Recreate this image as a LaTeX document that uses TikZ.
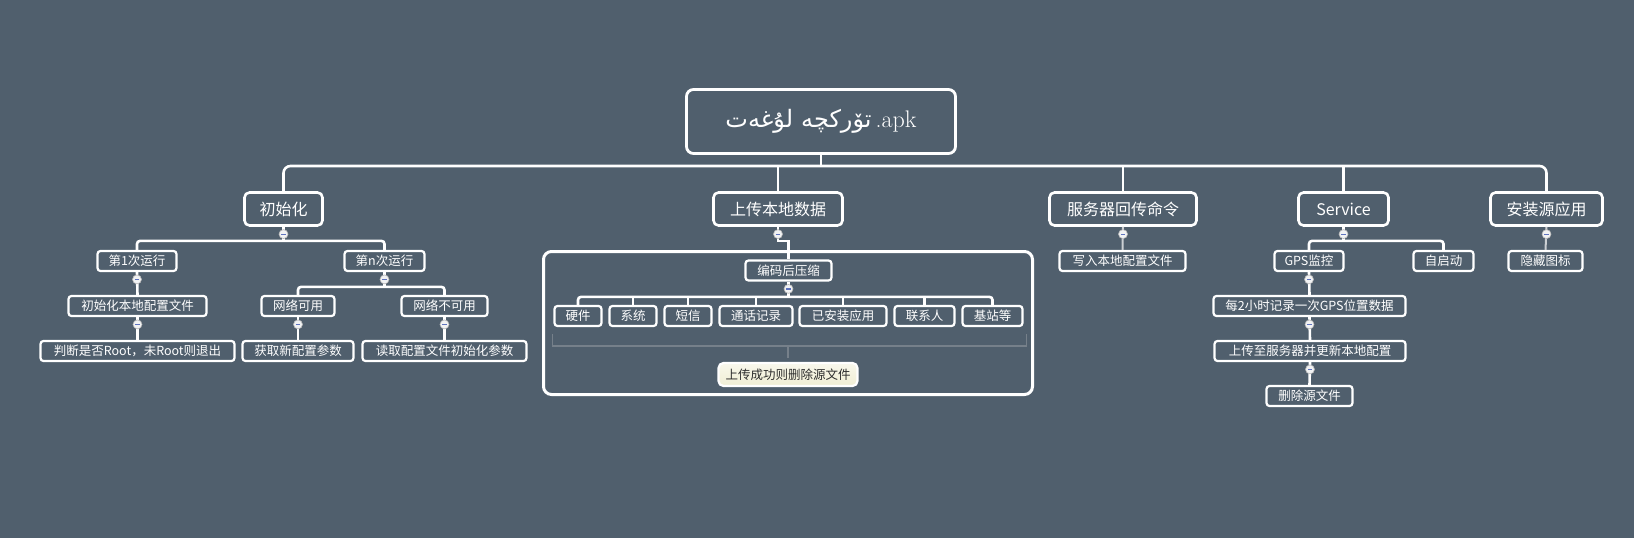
\documentclass[tikz,border=0pt]{standalone}
\usepackage{fontspec}
\usepackage{xcolor}
\usepackage{tikz}
\usetikzlibrary{positioning,calc}
\TeXXeTstate=1
\newfontfamily\cjk{Noto Sans CJK SC}
\newfontfamily\uyfont[Script=Arabic]{DejaVu Sans}
\definecolor{slate}{RGB}{80,95,109}
\definecolor{cream}{RGB}{240,238,212}
\definecolor{inkdark}{RGB}{45,45,45}
\definecolor{bracketgray}{RGB}{118,128,138}
\definecolor{knobblue}{RGB}{95,115,190}

\tikzset{
  titlebox/.style={draw=white, line width=2.8pt, rounded corners=7pt, fill=slate, text=white,
    minimum width=269, minimum height=64, font=\fontsize{24}{28}\selectfont},
  topic/.style={draw=white, line width=2.6pt, rounded corners=5pt, fill=slate, text=white,
    minimum height=33, inner xsep=3pt, font=\cjk\fontsize{16}{18}\selectfont},
  subtopic/.style={draw=white, line width=2.2pt, rounded corners=3pt, fill=slate, text=white,
    minimum height=20, inner xsep=2pt, inner ysep=0pt, font=\cjk\fontsize{12.5}{14}\selectfont},
  summary/.style={draw=white, line width=2.2pt, rounded corners=5pt, top color=cream!45!white,
    bottom color=cream, text=inkdark, minimum width=139, minimum height=23,
    font=\cjk\fontsize{12.5}{14}\selectfont},
  groupbox/.style={draw=white, line width=3pt, rounded corners=8pt},
  link/.style={draw=white, line width=2.6pt},
  stub/.style={draw=white!70!slate, line width=2pt},
  bracket/.style={draw=bracketgray, line width=1.5pt},
  knob/.style={circle, draw=gray!55, fill=white!92!slate, line width=0.6pt, inner sep=0pt,
    minimum size=9,
    path picture={\draw[knobblue, line width=1.2pt]
      ([xshift=-2.2pt]path picture bounding box.center) --
      ([xshift=2.2pt]path picture bounding box.center);}}
}

\begin{document}
\begin{tikzpicture}[x=1pt, y=-1pt]
  \fill[slate] (0,0) rectangle (1634,538);

  % root and main topics
  \node[titlebox] (title) at (821,121.5)
    {{\uyfont\beginR تۆركچە\hspace{8pt}لۇغەت\endR}\hspace{4pt}.apk};
  \node[topic, minimum width=78] (init) at (283.5,209) {初始化};
  \node[topic, minimum width=129] (upload) at (778,209) {上传本地数据};
  \node[topic, minimum width=147] (server) at (1123,209) {服务器回传命令};
  \node[topic, minimum width=90] (service) at (1343.5,209) {Service};
  \node[topic, minimum width=112] (install) at (1546.5,209) {安装源应用};

  % init branch
  \node[subtopic, minimum width=79] (run1) at (137,261) {第1次运行};
  \node[subtopic, minimum width=80] (runn) at (384.5,261) {第n次运行};
  \node[subtopic, minimum width=138] (cfginit) at (137.5,306) {初始化本地配置文件};
  \node[subtopic, minimum width=194] (root) at (137.5,351) {判断是否Root，未Root则退出};
  \node[subtopic, minimum width=73] (neton) at (298,306) {网络可用};
  \node[subtopic, minimum width=86] (netoff) at (444.5,306) {网络不可用};
  \node[subtopic, minimum width=111] (fetch) at (298,351) {获取新配置参数};
  \node[subtopic, minimum width=164] (readcfg) at (444.5,351) {读取配置文件初始化参数};

  % upload branch
  \node[groupbox, minimum width=489, minimum height=143] (group) at (788,323) {};
  \node[subtopic, minimum width=86] (code) at (788.5,270.5) {编码后压缩};
  \node[subtopic, minimum width=47] (hw) at (578,316) {硬件};
  \node[subtopic, minimum width=47] (sys) at (633,316) {系统};
  \node[subtopic, minimum width=47] (sms) at (688,316) {短信};
  \node[subtopic, minimum width=73] (calls) at (756,316) {通话记录};
  \node[subtopic, minimum width=87] (apps) at (843,316) {已安装应用};
  \node[subtopic, minimum width=60] (contacts) at (924.5,316) {联系人};
  \node[subtopic, minimum width=60] (base) at (992.5,316) {基站等};
  \node[summary] (done) at (788,374.5) {上传成功则删除源文件};

  % server, service, install branches
  \node[subtopic, minimum width=126] (cfgw) at (1122.5,261) {写入本地配置文件};
  \node[subtopic, minimum width=69] (gps) at (1309,261) {GPS监控};
  \node[subtopic, minimum width=60] (autorun) at (1443.5,261) {自启动};
  \node[subtopic, minimum width=192] (gpslog) at (1309.5,306) {每2小时记录一次GPS位置数据};
  \node[subtopic, minimum width=191] (gpsup) at (1310,351) {上传至服务器并更新本地配置};
  \node[subtopic, minimum width=86] (gpsdel) at (1309.5,396) {删除源文件};
  \node[subtopic, minimum width=74] (hide) at (1545.5,261) {隐藏图标};

  % connectors
  \coordinate (bus) at (0,166);
  \draw[link] (title.south) -- (title.south |- bus);
  \draw[link, rounded corners=7pt] (init.north) |- (install.north |- bus) -- (install.north);
  \foreach \n in {upload,server,service}
    \draw[link] (\n.north) -- (\n.north |- bus);

  \draw[link] (init.south) -- ++(0,14);
  \draw[link, rounded corners=3pt] (run1.north) -- ++(0,-9) -| (runn.north);
  \draw[link] (run1.south) -- (cfginit.north);
  \draw[link] (cfginit.south) -- (root.north);
  \draw[link] (runn.south) -- ++(0,15);
  \draw[link, rounded corners=3pt] (neton.north) -- ++(0,-8) -| (netoff.north);
  \draw[link] (neton.south) -- (fetch.north);
  \draw[link] (netoff.south) -- (readcfg.north);

  \draw[link] (upload.south) -- ++(0,14) -| (code.north);
  \draw[link] (code.south) -- ++(0,16);
  \draw[link, rounded corners=3pt] (hw.north) -- ++(0,-8) -| (base.north);
  \foreach \n in {sys,sms,calls,apps,contacts}
    \draw[link] (\n.north) -- ++(0,-8);
  \draw[bracket] ($(hw.south west)+(-1,7)$) -- ++(0,12) -| ($(base.south east)+(3,7)$);
  \draw[bracket] ($(done.north)+(0,-4)$) -- ++(0,-12);

  \draw[stub] (server.south) -- (cfgw.north);
  \draw[link] (service.south) -- ++(0,14);
  \draw[link, rounded corners=3pt] (gps.north) -- ++(0,-9) -| (autorun.north);
  \draw[link] (gps.south) -- (gpslog.north);
  \draw[link] (gpslog.south) -- (gpsup.north);
  \draw[link] (gpsup.south) -- (gpsdel.north);
  \draw[stub] (install.south) -- (hide.north);

  % collapse knobs
  \foreach \n in {init,run1,runn,cfginit,neton,netoff,upload,code,server,service,gps,gpslog,gpsup,install}
    \node[knob, below=2.5pt of \n] {};
\end{tikzpicture}
\end{document}
